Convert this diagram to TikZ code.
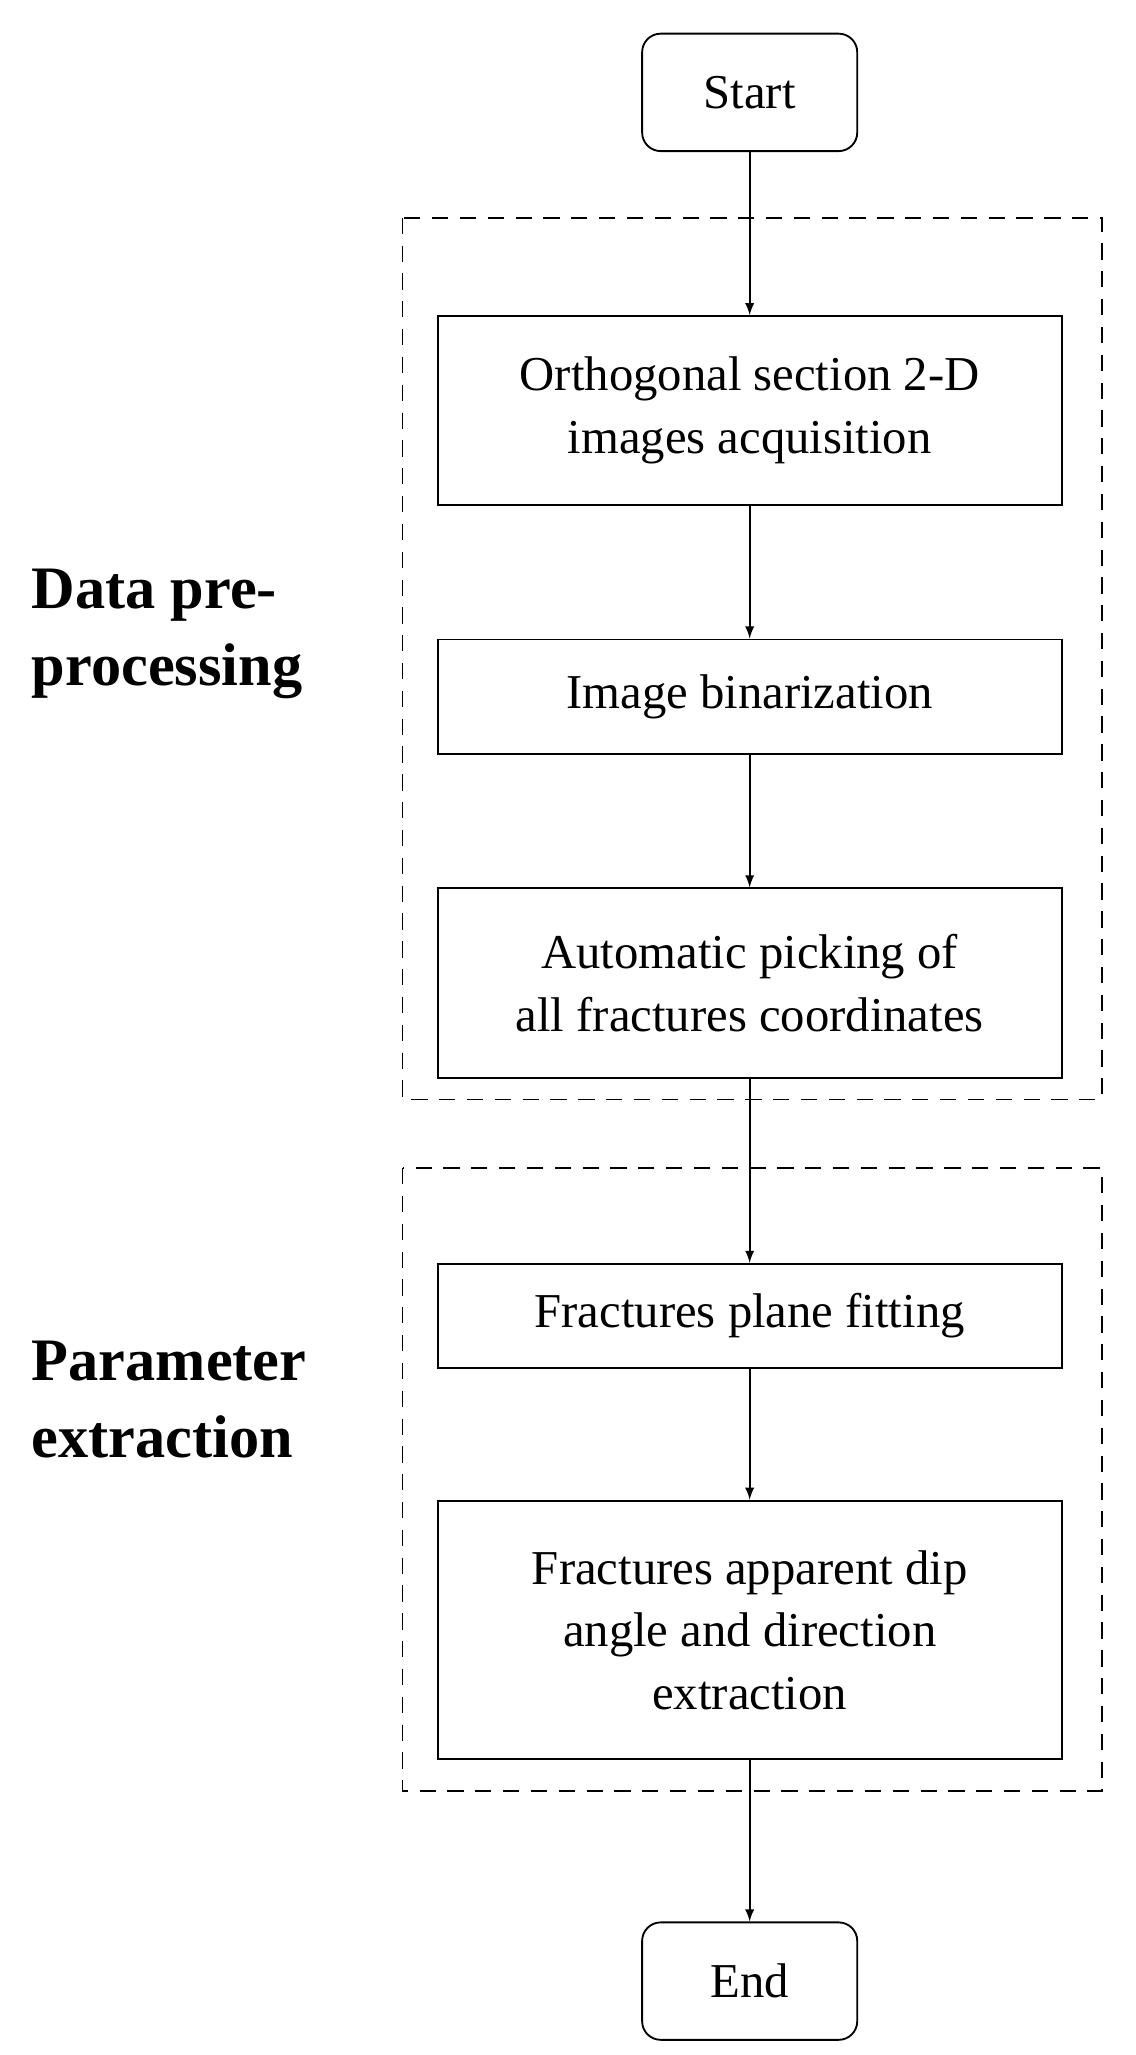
\documentclass[tikz,border=0pt]{standalone}
\usepackage{fontspec}
\setmainfont{Liberation Serif}
\usetikzlibrary{arrows,positioning}
\tikzset{stage/.style={rectangle,draw,thick,minimum width=9.46cm,inner sep=0pt,align=center,font=\fontsize{21}{27}\selectfont}}
\tikzset{term/.style={rectangle,rounded corners=8pt,draw,thick,minimum width=3.26cm,minimum height=1.78cm,font=\fontsize{21}{27}\selectfont}}
\tikzset{group/.style={draw,thick,dashed,dash pattern=on 7pt off 5pt}}
\tikzset{phase/.style={anchor=north west,align=left,font=\bfseries\fontsize{26}{33}\selectfont}}
\tikzstyle{arrow} = [thick,->,>=latex]

\begin{document}
\begin{tikzpicture}[x=0.02cm,y=-0.02cm]
  \useasboundingbox (0,0) rectangle (860,1557);
    \draw[group] (305,165) rectangle (835,833);
    \draw[group] (305,885) rectangle (835,1357);

    \node[term] (start) at (568,70) {Start};
    \node[stage,minimum height=2.86cm] (acq) at (568,311) {Orthogonal section 2-D\\images acquisition};
    \node[stage,minimum height=1.74cm] (bin) at (568,528) {Image binarization};
    \node[stage,minimum height=2.88cm] (pick) at (568,745) {Automatic picking of\\all fractures coordinates};
    \node[stage,minimum height=1.58cm] (fit) at (568,997) {Fractures plane fitting};
    \node[stage,minimum height=3.92cm] (dip) at (568,1235) {Fractures apparent dip\\angle and direction\\extraction};
    \node[term] (end) at (568,1501) {End};

    \node[phase] (pre) at (18,425) {Data pre-\\processing};
    \node[phase] (par) at (18,1010) {Parameter\\extraction};

    \draw [arrow] (start) -- (acq);
    \draw [arrow] (acq) -- (bin);
    \draw [arrow] (bin) -- (pick);
    \draw [arrow] (pick) -- (fit);
    \draw [arrow] (fit) -- (dip);
    \draw [arrow] (dip) -- (end);
\end{tikzpicture}
\end{document}
